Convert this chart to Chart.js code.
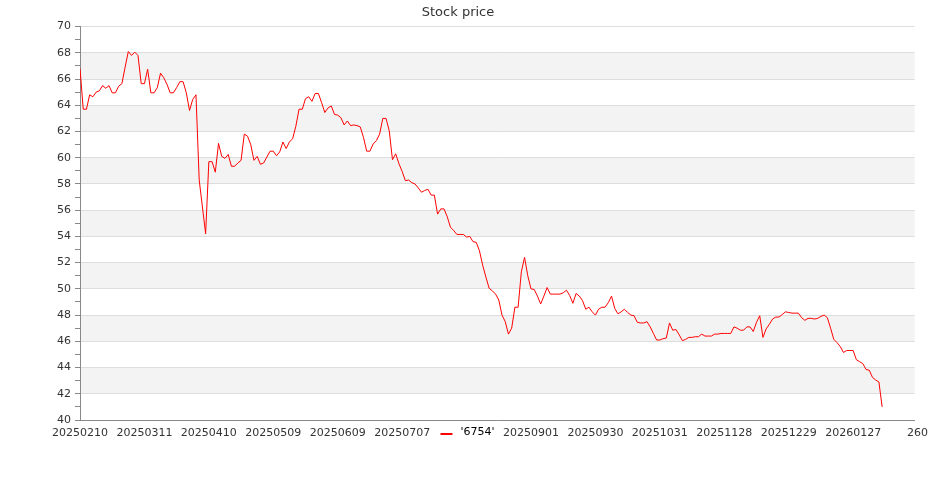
<!DOCTYPE html>
<html lang="en">
<head>
  <meta charset="UTF-8">
  <title>Stock price</title>
  <script src="https://cdn.jsdelivr.net/npm/chart.js"></script>
  <style>
    body {
      margin: 0;
      background: #fff;
    }
    canvas {
      display: block;
    }
  </style>
</head>
<body>
  <canvas id="priceChart" width="935" height="500"></canvas>

  <script>
    const seriesName = "'6754'";

    // one tick label every 20 trading days
    const xTickLabels = [
      '20250210', '20250311', '20250410', '20250509', '20250609', '20250707', '',
      '20250901', '20250930', '20251031', '20251128', '20251229', '20260127', '260'
    ];

    const prices = [
      66.8, 63.7, 63.7, 64.8, 64.65, 65.0, 65.1, 65.5, 65.3, 65.5,
      64.95, 64.95, 65.45, 65.65, 66.9, 68.1, 67.8, 68.05, 67.8, 65.65,
      65.65, 66.75, 64.95, 64.95, 65.35, 66.45, 66.1, 65.6, 64.95, 64.95,
      65.35, 65.8, 65.8, 64.95, 63.6, 64.45, 64.8, 58.3, 56.25, 54.2,
      59.7, 59.7, 58.9, 61.1, 60.1, 59.95, 60.25, 59.35, 59.35, 59.6,
      59.8, 61.8, 61.65, 61.0, 59.8, 60.1, 59.5, 59.6, 60.05, 60.5,
      60.5, 60.15, 60.45, 61.2, 60.7, 61.2, 61.45, 62.4, 63.7, 63.7,
      64.5, 64.65, 64.3, 64.9, 64.9, 64.2, 63.45, 63.8, 63.95, 63.3,
      63.25, 63.05, 62.5, 62.8, 62.45, 62.5, 62.45, 62.35, 61.55, 60.5,
      60.5, 61.05, 61.3, 61.8, 63.0, 63.0, 62.05, 59.85, 60.3, 59.55,
      58.95, 58.25, 58.3, 58.1, 58.0, 57.7, 57.37, 57.5, 57.6, 57.15,
      57.15, 55.7, 56.1, 56.1, 55.5, 54.7, 54.45, 54.15, 54.15, 54.15,
      53.95, 54.0, 53.6, 53.55, 52.9, 51.8, 50.9, 50.05, 49.85, 49.6,
      49.15, 48.0, 47.5, 46.55, 47.0, 48.6, 48.6, 51.3, 52.4, 51.0,
      50.0, 49.95, 49.45, 48.85, 49.45, 50.1, 49.6, 49.6, 49.6, 49.6,
      49.7, 49.9, 49.5, 48.9, 49.65, 49.45, 49.1, 48.45, 48.6, 48.25,
      48.0, 48.45, 48.6, 48.6, 48.95, 49.45, 48.5, 48.1, 48.25, 48.45,
      48.2, 48.0, 47.95, 47.45, 47.4, 47.4, 47.5, 47.1, 46.6, 46.1,
      46.1, 46.2, 46.25, 47.4, 46.85, 46.9, 46.5, 46.05, 46.15, 46.3,
      46.3, 46.35, 46.35, 46.55, 46.4, 46.4, 46.4, 46.55, 46.55, 46.6,
      46.6, 46.6, 46.6, 47.1, 47.0, 46.85, 46.85, 47.1, 47.1, 46.75,
      47.45, 47.95, 46.3, 46.95, 47.3, 47.7, 47.85, 47.85, 48.05, 48.25,
      48.2, 48.15, 48.15, 48.15, 47.8, 47.6, 47.75, 47.75, 47.7, 47.75,
      47.9, 48.0, 47.8, 47.0, 46.15, 45.9, 45.6, 45.15, 45.3, 45.3,
      45.3, 44.6, 44.45, 44.3, 43.85, 43.8, 43.25, 43.05, 42.9, 41.0
    ];

    const fontFamily = '"DejaVu Sans", sans-serif';

    // alternating grey bands behind the grid
    const bandsPlugin = {
      id: 'bands',
      beforeDraw(chart) {
        const { ctx, chartArea, scales: { y } } = chart;
        ctx.save();
        ctx.fillStyle = '#f3f3f3';
        for (let v = y.min + 2; v < y.max; v += 4) {
          const top = y.getPixelForValue(v + 2);
          const bottom = y.getPixelForValue(v);
          ctx.fillRect(chartArea.left, top, chartArea.right - chartArea.left, bottom - top);
        }
        ctx.restore();
      }
    };

    // legend sits in the x label row, centred
    const inlineLegend = {
      id: 'inlineLegend',
      afterDraw(chart) {
        const { ctx } = chart;
        const ds = chart.data.datasets[0];
        ctx.save();
        ctx.font = '11px ' + fontFamily;
        const textW = ctx.measureText(ds.label).width;
        const total = 12 + 8 + textW;
        const x0 = chart.width / 2 - total / 2;
        const yMid = 433;
        ctx.strokeStyle = ds.borderColor;
        ctx.lineWidth = 2;
        ctx.beginPath();
        ctx.moveTo(x0, yMid + 1);
        ctx.lineTo(x0 + 12, yMid + 1);
        ctx.stroke();
        ctx.fillStyle = '#000';
        ctx.textBaseline = 'middle';
        ctx.fillText(ds.label, x0 + 20, yMid - 1);
        ctx.restore();
      }
    };

    new Chart(document.getElementById('priceChart'), {
      type: 'line',
      data: {
        datasets: [{
          label: seriesName,
          data: prices.map((p, i) => ({ x: i, y: p })),
          borderColor: '#ff0000',
          borderWidth: 1,
          pointRadius: 0,
          tension: 0,
          fill: false
        }]
      },
      options: {
        responsive: false,
        animation: false,
        layout: { padding: { left: 0, right: 19, top: 0, bottom: 60 } },
        plugins: {
          legend: { display: false },
          tooltip: { enabled: false },
          title: {
            display: true,
            text: 'Stock price',
            color: '#333',
            font: { family: fontFamily, size: 13, weight: 'normal' },
            padding: { top: 5, bottom: 6 }
          }
        },
        scales: {
          x: {
            type: 'linear',
            min: 0,
            max: 259.1,
            afterFit(scale) { scale.height = 20; },
            afterBuildTicks(scale) {
              // keep the last label (past the plot edge) like the original
              scale.ticks = xTickLabels.map((_, k) => ({ value: k * 20 }));
            },
            border: { display: true, color: '#888', width: 1 },
            grid: { display: false, drawTicks: false },
            ticks: {
              autoSkip: false,
              maxRotation: 0,
              padding: 7,
              color: '#333',
              font: { family: fontFamily, size: 11 },
              callback: (v) => xTickLabels[Math.round(v / 20)]
            }
          },
          y: {
            min: 40,
            max: 70,
            afterFit(scale) { scale.width = 80; },
            border: { display: true, color: '#888', width: 1 },
            grid: {
              color: (c) => (c.tick && c.tick.value % 2 === 0 ? '#dddddd' : 'rgba(0,0,0,0)'),
              tickColor: '#888',
              tickLength: 5,
              drawTicks: true
            },
            ticks: {
              stepSize: 1,
              autoSkip: false,
              padding: 4,
              color: '#333',
              font: { family: fontFamily, size: 11 },
              callback: (v) => (v % 2 === 0 ? v : '')
            }
          }
        }
      },
      plugins: [bandsPlugin, inlineLegend]
    });
  </script>
</body>
</html>
